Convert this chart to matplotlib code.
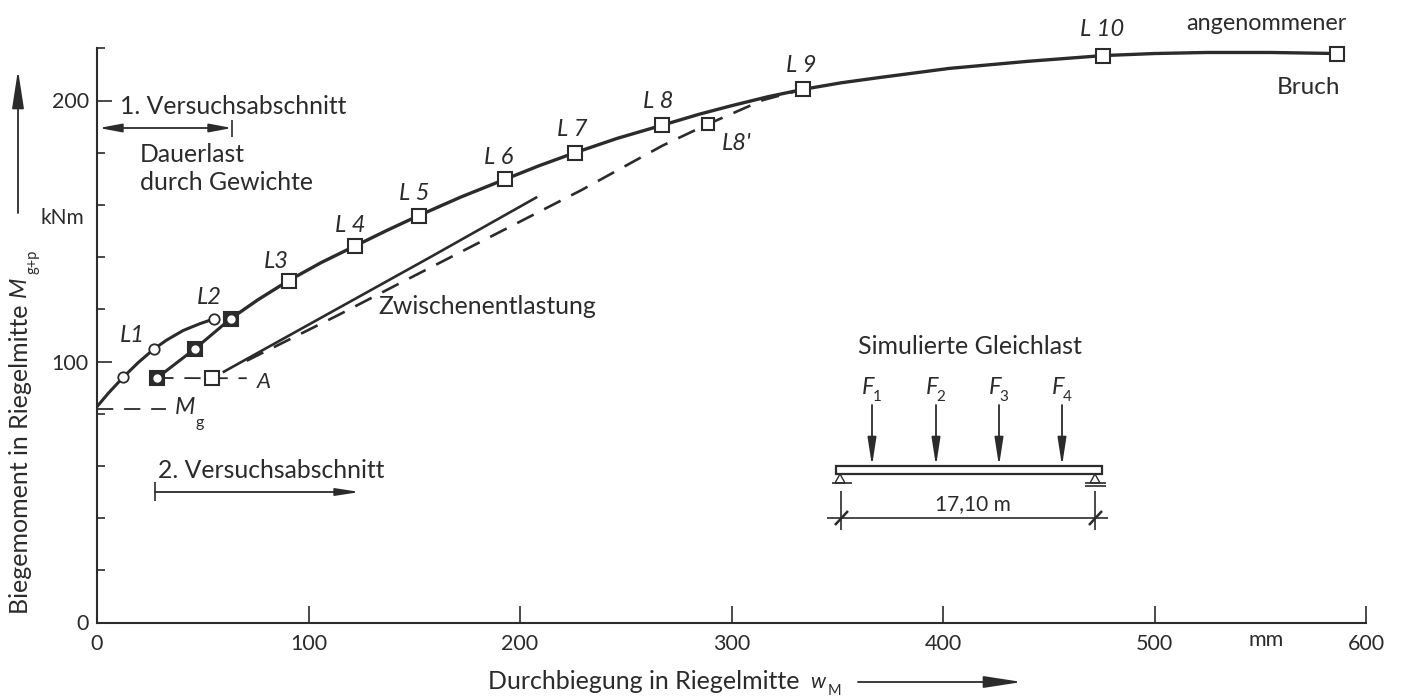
import matplotlib
matplotlib.use('Agg')
import matplotlib.pyplot as plt
from matplotlib.patches import Polygon, Rectangle

plt.rcParams['font.family'] = ['Lato', 'DejaVu Sans']
INK = '#2b2b2b'

# first loading up to L2
w_start = [0, 5.3, 12.3, 19.5, 26.8, 32.9, 40.8, 48.7, 55.5]
m_start = [82.7, 87.8, 93.9, 99.6, 104.7, 108.2, 111.9, 114.5, 116.4]
w_circles = [12.3, 26.8, 55.5]
m_circles = [93.9, 104.7, 116.4]

# main curve, L2 to assumed failure
w_main = [63.2, 76, 90.6, 106, 122.1, 137, 152.1, 172, 192.9, 209, 226, 246, 267.1, 285, 300, 317, 334,
          352, 370, 403, 440, 475.5, 500, 524.7, 555, 586.1]
m_main = [116.4, 123.6, 131.0, 137.9, 144.3, 150.2, 155.9, 163, 169.8, 175, 180, 185.5, 190.5, 194.8, 198, 201.4, 204.3,
          206.8, 208.8, 212.3, 215, 217.2, 218, 218.4, 218.4, 218]
w_squares = [90.6, 122.1, 152.1, 192.9, 226, 267.1, 334, 475.5, 586.1]
m_squares = [131.0, 144.3, 155.9, 169.8, 180, 190.5, 204.3, 217.2, 218]

# reloading in section 2
w_reload = [28.5, 46.2, 63.2]
m_reload = [93.8, 104.8, 116.4]

# horizontal dashes
w_a = [28.5, 54.4, 70.8]
m_a = [93.7, 93.6, 93.6]
w_a_pt, m_a_pt = 54.4, 93.6
w_g = [0, 32.6]
m_g = [81.7, 81.7]

# Zwischenentlastung
w_unload = [60, 157.4, 207.6]
m_unload = [96.1, 139.9, 162.8]
w_dash = [70.8, 114.1, 142.5, 196.9, 229.1, 250, 267.6, 289, 315, 334]
m_dash = [100.3, 117.8, 129.7, 152.3, 165.7, 175, 182.8, 191, 200.2, 204.3]
w_l8p, m_l8p = 289, 191

x_ticks = [0, 100, 200, 300, 400, 500, 600]
y_ticks = [0, 100, 200]
y_minor = [20, 40, 60, 80, 120, 140, 160, 180, 220]

load_labels = ['L1', 'L2', 'L3', 'L 4', 'L 5', 'L 6', 'L 7', 'L 8', "L8'", 'L 9', 'L 10']
load_label_px = [(132, 336), (209, 298), (276, 262), (350, 225), (414, 193), (499, 158),
                 (572, 130), (658, 101), (737, 143), (801, 65), (1102, 30)]
force_labels = ['F', 'F', 'F', 'F']
force_x = [872, 936, 999, 1062]

fig = plt.figure(figsize=(14.05, 6.98), dpi=100)
ax = fig.add_axes([97/1405, 75.5/698, 1269/1405, 574.2/698])
ax.set_xlim(0, 600)
ax.set_ylim(0, 220)
ax.patch.set_alpha(0)
for s in ['top', 'right']:
    ax.spines[s].set_visible(False)
for s in ['left', 'bottom']:
    ax.spines[s].set_linewidth(1.5)
    ax.spines[s].set_color(INK)
ax.set_xticks(x_ticks)
ax.set_yticks(y_ticks)
ax.set_yticks(y_minor, minor=True)
ax.tick_params(axis='x', direction='in', length=12, width=1.2, color=INK, labelsize=15.5, labelcolor=INK, pad=8)
ax.tick_params(axis='y', direction='in', length=10.5, width=1.2, color=INK, labelsize=15.5, labelcolor=INK, pad=6)
ax.tick_params(axis='y', which='minor', direction='in', length=5.5, width=1.2, color=INK)

ax.set_xlabel('Durchbiegung in Riegelmitte', fontsize=18, color=INK, va='center')
ax.xaxis.set_label_coords(0.431, -0.103)
ax.set_ylabel('Biegemoment in Riegelmitte', fontsize=18, color=INK, va='center')
ax.yaxis.set_label_coords(-0.060, 0.285)

dash = (0, (7, 4.5))
ax.plot(w_start, m_start, color=INK, lw=2.2, zorder=3)
ax.plot(w_main, m_main, color=INK, lw=2.4, zorder=3, clip_on=False)
ax.plot(w_reload, m_reload, color=INK, lw=2.2, zorder=3)
ax.plot(w_unload, m_unload, color=INK, lw=1.9, zorder=3)
ax.plot(w_dash, m_dash, color=INK, lw=1.9, ls=dash, zorder=3)
ax.plot(w_a, m_a, color=INK, lw=1.3, ls=(0, (9, 6)), zorder=3)
ax.plot(w_g, m_g, color=INK, lw=1.3, ls=(0, (9, 6)), zorder=3)

ax.plot(w_circles, m_circles, 'o', ms=7.5, mfc='white', mec=INK, mew=1.3, zorder=4)
ax.plot(w_squares, m_squares, 's', ms=9.5, mfc='white', mec=INK, mew=1.5, zorder=4, clip_on=False)
ax.plot([w_a_pt], [m_a_pt], 's', ms=9.5, mfc='white', mec=INK, mew=1.5, zorder=4)
ax.plot([w_l8p], [m_l8p], 's', ms=9, mfc='white', mec=INK, mew=1.5, zorder=4)
ax.plot(w_reload, m_reload, 's', ms=9.5, mfc=INK, mec=INK, mew=1.5, zorder=4)
ax.plot(w_reload, m_reload, 'o', ms=6, mfc='white', mec='none', zorder=5)

# overlay in picture pixels for notes and the small beam sketch
ov = fig.add_axes([0, 0, 1, 1])
ov.set_xlim(0, 1405)
ov.set_ylim(698, 0)
ov.axis('off')
ov.patch.set_alpha(0)

def note(x, y, s, size=17.8, ha='left', style='normal', rot=0):
    ov.text(x, y, s, fontsize=size, ha=ha, va='center', color=INK, style=style, rotation=rot)

def arrow(x0, y0, x1, y1, style='-|>,head_length=1.3,head_width=0.2', lw=1.3, ms=17):
    ov.annotate('', xy=(x1, y1), xytext=(x0, y0),
                arrowprops=dict(arrowstyle=style, color=INK, lw=lw, mutation_scale=ms,
                                shrinkA=0, shrinkB=0))

def seg(xs, ys, lw=1.2):
    ov.plot(xs, ys, color=INK, lw=lw, solid_capstyle='butt')

for s, (x, y) in zip(load_labels, load_label_px):
    note(x, y, s, size=17, ha='center', style='italic')

note(120, 107, '1. Versuchsabschnitt')
note(140, 154, 'Dauerlast')
note(140, 183, 'durch Gewichte')
arrow(99, 128, 232, 128, style='<|-|>,head_length=0.8,head_width=0.15')
seg([232, 232], [120, 137])

note(158, 470, '2. Versuchsabschnitt')
arrow(155, 492, 360, 492, ms=11)
seg([155, 155], [482, 501])

note(378, 306, 'Zwischenentlastung')
note(257, 382, 'A', size=16, style='italic')
note(175, 408, 'M', size=17, style='italic')
note(196, 423, 'g', size=11.5)
note(1186, 23, 'angenommener', size=16.8)
note(1340, 88, 'Bruch', ha='right', size=17.5)
note(62, 218, 'kNm', size=15, ha='center')
note(1266, 640, 'mm', size=15.5, ha='center')

# y axis arrow and symbol
arrow(18, 213, 18, 70, ms=18)
note(19, 287, 'M', size=17, ha='center', style='italic', rot=90)
note(33, 262, 'g+p', size=10.5, ha='center', rot=90)

# x axis arrow and symbol
note(810, 682, 'w', size=15, style='italic')
note(828, 691, 'M', size=10.5)
arrow(858, 682, 1022, 682, ms=18)

# beam sketch
note(970, 346, 'Simulierte Gleichlast', size=18, ha='center')
ov.add_patch(Rectangle((836, 466), 266, 8, fc='white', ec=INK, lw=1.6))
for i, (fx, s) in enumerate(zip(force_x, force_labels)):
    arrow(fx, 405, fx, 466, ms=13)
    note(fx - 4, 387, s, size=17, ha='center', style='italic')
    note(fx + 5, 397, str(i + 1), size=11, ha='center')
ov.add_patch(Polygon([(840, 474), (835, 483), (845, 483)], closed=True, fc='white', ec=INK, lw=1))
ov.add_patch(Polygon([(1095, 474), (1090, 483), (1100, 483)], closed=True, fc='white', ec=INK, lw=1))
seg([832, 852], [483, 483])
seg([1085, 1106], [483, 483])
seg([1085, 1106], [485.5, 485.5])
seg([827, 1108], [518, 518])
seg([841, 841], [491, 530])
seg([1095, 1095], [491, 530])
seg([835, 848], [525, 511], lw=1.8)
seg([1089, 1102], [525, 511], lw=1.8)
note(973, 504, '17,10 m', size=15, ha='center')

fig.savefig('out.png', dpi=100)
